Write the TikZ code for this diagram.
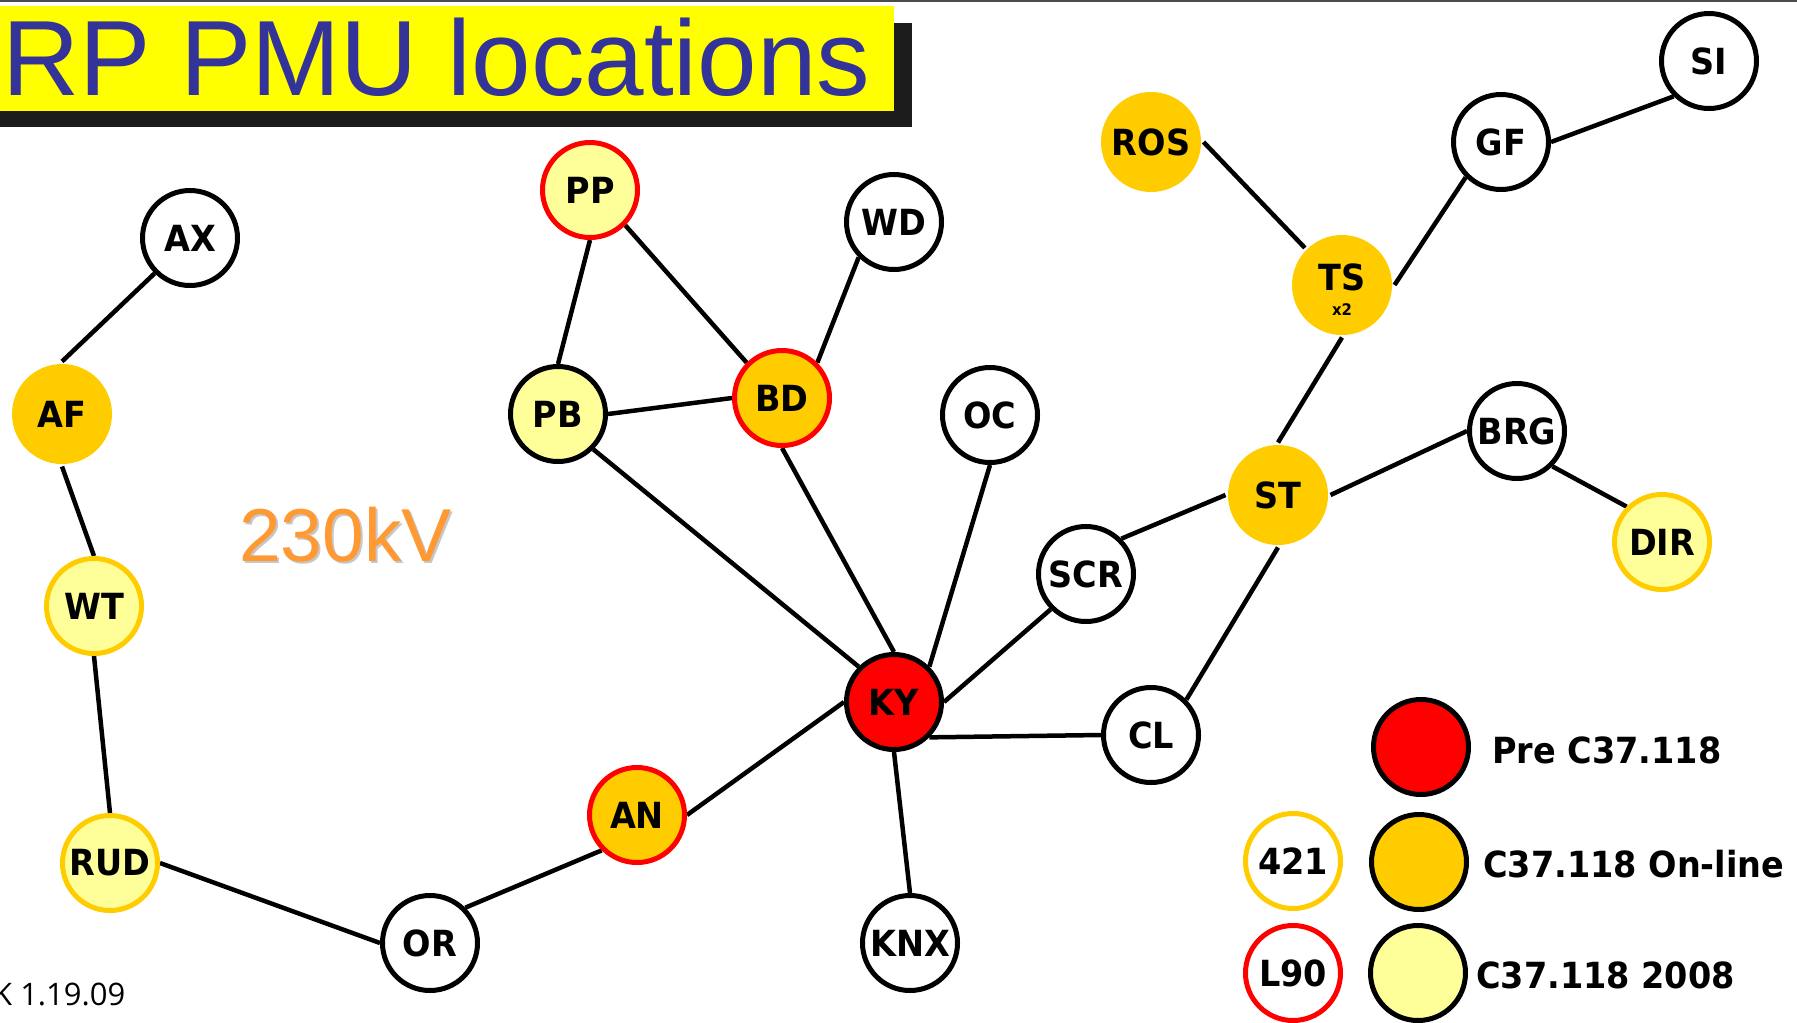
\documentclass[tikz,border=0pt]{standalone}
\usepackage{fontspec}
\setmainfont{Liberation Sans}
\newfontfamily\pmulabelfont[FakeStretch=0.93]{DejaVu Sans}
\newfontfamily\pmudatefont{Open Sans}
\definecolor{titleyellow}{HTML}{FFFF00}
\definecolor{titleblue}{HTML}{333399}
\definecolor{shadowc}{HTML}{1C1C1C}
\definecolor{pmuorange}{HTML}{FFCC00}
\definecolor{pmulight}{HTML}{FFFF99}
\definecolor{pmured}{HTML}{FF0000}
\definecolor{kvorange}{HTML}{FF9933}
\pgfdeclarelayer{background}
\pgfsetlayers{background,main}
\tikzset{
  stn/.style={circle, draw=black, line width=5pt, minimum size=95pt, inner sep=0pt, fill=white,
    font=\pmulabelfont\fontsize{36}{40}\selectfont\bfseries},
  online/.style={stn, draw=none, fill=pmuorange, minimum size=100pt},
  lightblk/.style={stn, fill=pmulight},
  lightyel/.style={stn, fill=pmulight, draw=pmuorange},
  lightred/.style={stn, fill=pmulight, draw=pmured},
  orangered/.style={stn, fill=pmuorange, draw=pmured},
  orangeblk/.style={stn, fill=pmuorange},
  redblk/.style={stn, fill=pmured},
  whiteyel/.style={stn, draw=pmuorange},
  whitered/.style={stn, draw=pmured},
  conn/.style={line width=4.5pt, draw=black},
  legtext/.style={anchor=base west, inner sep=0pt, font=\pmulabelfont\fontsize{36}{40}\selectfont\bfseries},
  lbl/.style={inner sep=0pt, font=\pmulabelfont\fontsize{36}{40}\selectfont\bfseries}
}
\begin{document}
\begin{tikzpicture}[x=1pt,y=-1pt]
\useasboundingbox (0,0) rectangle (1797,1023);
\clip (0,0) rectangle (1797,1023);
\begin{pgfonlayer}{background}
\fill[white] (0,0) rectangle (1797,1023);
\end{pgfonlayer}
\fill[black!70] (0,0) rectangle (1797,2);
% title
\fill[shadowc] (0,23) rectangle (912,127);
\fill[titleyellow] (0,6) rectangle (894,111);
\node[anchor=base west, inner sep=0pt, text=titleblue, font=\fontsize{107}{107}\selectfont] (title) at (2,95) {RP PMU locations};
% voltage label
\node[anchor=base west, inner sep=0pt, text=black!22, font=\fontsize{75}{75}\selectfont] (kvshadow) at (241,563) {230kV};
\node[anchor=base west, inner sep=0pt, text=kvorange, font=\fontsize{75}{75}\selectfont] (kv) at (239,561) {230kV};
% date
\node[anchor=base west, inner sep=0pt, font=\pmudatefont\fontsize{31}{31}\selectfont] (date) at (-7,1005) {K 1.19.09};
% stations
\node[stn] (AX) at (190,238) {AX};
\node[online] (AF) at (62,414) {AF};
\node[lightyel] (WT) at (94,606) {WT};
\node[lightyel] (RUD) at (110,863) {RUD};
\node[stn] (OR) at (430,943) {OR};
\node[orangered] (AN) at (637,815) {AN};
\node[redblk] (KY) at (894,702) {KY};
\node[stn] (KNX) at (910,943) {KNX};
\node[lightblk] (PB) at (558,414) {PB};
\node[lightred] (PP) at (590,190) {PP};
\node[orangered] (BD) at (782,398) {BD};
\node[stn] (WD) at (894,222) {WD};
\node[stn] (OC) at (990,415) {OC};
\node[stn] (SCR) at (1086,574) {SCR};
\node[stn] (CL) at (1151,735) {CL};
\node[online] (ST) at (1278,495) {ST};
\node[online] (TS) at (1342,285) {};
\node[lbl] (TSname) at (1342,277) {TS};
\node[lbl, font=\pmulabelfont\fontsize{16}{16}\selectfont\bfseries] (TSx) at (1342,310) {x2};
\node[online] (ROS) at (1151,142) {ROS};
\node[stn] (GF) at (1501,142) {GF};
\node[stn] (SI) at (1709,61) {SI};
\node[stn] (BRG) at (1517,431) {BRG};
\node[lightyel] (DIR) at (1662,542) {DIR};
% connectors
\begin{pgfonlayer}{background}
\draw[conn] (AX.south west) -- (AF.north);
\draw[conn] (AF.south) -- (WT.north);
\draw[conn] (WT.south) -- (RUD.north);
\draw[conn] (RUD.east) -- (OR.west);
\draw[conn] (OR.north east) -- (AN.south west);
\draw[conn] (AN.east) -- (KY.west);
\draw[conn] (PB.south east) -- (KY.north west);
\draw[conn] (BD.south) -- (KY.north);
\draw[conn] (OC.south) -- (KY.north east);
\draw[conn] (SCR.south west) -- (KY.east);
\draw[conn] (CL.west) -- (KY.south east);
\draw[conn] (KNX.north) -- (KY.south);
\draw[conn] (PP.south) -- (PB.north);
\draw[conn] (PP.south east) -- (BD.north west);
\draw[conn] (PB.east) -- (BD.west);
\draw[conn] (WD.south west) -- (BD.north east);
\draw[conn] (ST.south) -- (CL.north east);
\draw[conn] (ST.west) -- (SCR.north east);
\draw[conn] (ST.east) -- (BRG.west);
\draw[conn] (ST.north) -- (TS.south);
\draw[conn] (TS.north west) -- (ROS.east);
\draw[conn] (TS.east) -- (GF.south west);
\draw[conn] (GF.east) -- (SI.south west);
\draw[conn] (BRG.south east) -- (DIR.north west);
\end{pgfonlayer}
% legend
\node[redblk] (legpre) at (1421,747) {};
\node[orangeblk] (legon) at (1419,862) {};
\node[lightblk] (leg08) at (1418,973) {};
\node[whiteyel] (leg421) at (1293,861) {421};
\node[whitered] (legL90) at (1293,973) {L90};
\node[legtext] (legpretext) at (1492,763) {Pre C37.118};
\node[legtext] (legontext) at (1483,877) {C37.118 On-line};
\node[legtext] (leg08text) at (1476,988) {C37.118 2008};
\end{tikzpicture}
\end{document}
